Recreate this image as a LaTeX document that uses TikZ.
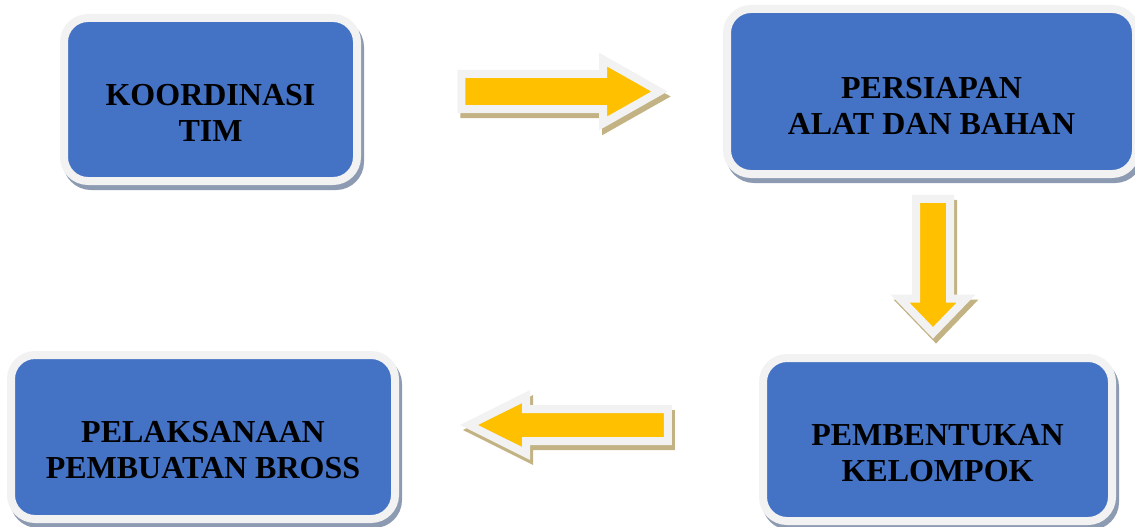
\documentclass[tikz,border=0pt]{standalone}
\usepackage{fontspec}
\setmainfont{Liberation Serif}
\usetikzlibrary{positioning,shapes.arrows,shadows,calc}
\definecolor{boxblue}{HTML}{4472C4}
\definecolor{rimgray}{HTML}{F2F2F2}
\definecolor{boxshade}{HTML}{8C9AB2}
\definecolor{arrowgold}{HTML}{FFC000}
\definecolor{arrowshade}{HTML}{C3B283}

\begin{document}
\begin{tikzpicture}[x=1pt, y=-1pt,
  stagebox/.style={fill=boxblue, draw=rimgray, line width=8pt, rounded corners=24pt, inner sep=0pt,
    drop shadow={fill=boxshade, draw=boxshade, line width=8pt, opacity=1, shadow xshift=3pt, shadow yshift=-5pt}},
  stagetext/.style={font=\bfseries\fontsize{32}{36}\selectfont, align=center, text=black},
  flowarrow/.style={single arrow, fill=arrowgold, draw=rimgray, line width=8pt,
    single arrow head indent=0pt,
    drop shadow={fill=arrowshade, draw=arrowshade, line width=8pt, opacity=1, shadow xshift=3pt, shadow yshift=-5pt}}]
\useasboundingbox (0,0) rectangle (1135,527);
% the four stages
\node[stagebox, minimum width=293pt, minimum height=163pt] (koord) at (210.5,99.5) {};
\node[stagebox, minimum width=409pt, minimum height=165pt] (persiapan) at (931.5,91.5) {};
\node[stagebox, minimum width=349pt, minimum height=163pt] (kelompok) at (937.5,439.5) {};
\node[stagebox, minimum width=384pt, minimum height=164pt] (bross) at (203,437) {};
\node[stagetext] (koord-txt) at ($(koord.center)+(0,13)$) {KOORDINASI\\TIM};
\node[stagetext] (persiapan-txt) at ($(persiapan.center)+(0,14)$) {PERSIAPAN\\ALAT DAN BAHAN};
\node[stagetext] (kelompok-txt) at ($(kelompok.center)+(0,14)$) {PEMBENTUKAN\\KELOMPOK};
\node[stagetext] (bross-txt) at ($(bross.center)+(0,13)$) {PELAKSANAAN\\PEMBUATAN BROSS};
% block arrows between stages
\node[flowarrow, inner sep=13.5pt, minimum height=198pt, single arrow head extend=14.4pt,
  single arrow tip angle=59] (go-right) at (545,91.5) {};
\node[flowarrow, shape border rotate=270, inner sep=13pt, minimum height=134pt,
  single arrow head extend=16pt, single arrow tip angle=88] (go-down) at (933,257) {};
\node[flowarrow, shape border rotate=180, inner sep=12pt, minimum height=199pt,
  single arrow head extend=12.5pt, single arrow tip angle=53] (go-left) at (584.5,425) {};
\end{tikzpicture}
\end{document}
